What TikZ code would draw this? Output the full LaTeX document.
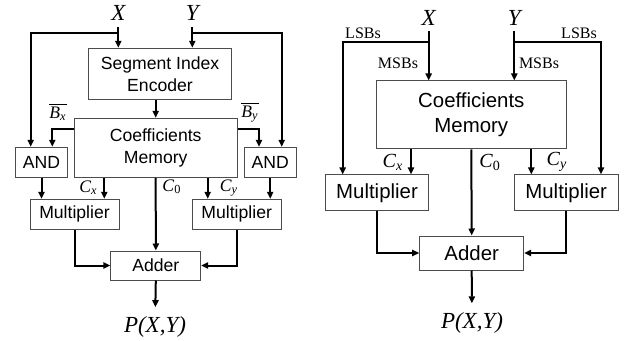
\documentclass[tikz,border=0pt]{standalone}
\usepackage{fontspec}
\setmainfont{Liberation Serif}
\setsansfont{Liberation Sans}
\usetikzlibrary{arrows.meta,positioning}
\newcommand{\subl}[2]{\textit{#1}\textsubscript{#2}}
\tikzset{
  blk/.style={draw=black!70,line width=.5pt,align=center,inner sep=0pt,font=\fontsize{8.8}{11}\selectfont\sffamily},
  blkbig/.style={blk,font=\fontsize{10.2}{12.5}\selectfont\sffamily},
  wire/.style={line width=1pt},
  arr/.style={wire,-{Triangle[length=3.5pt,width=3.1pt]}},
  var/.style={font=\fontsize{11.5}{12}\selectfont\itshape,inner sep=3pt},
  sig/.style={font=\fontsize{8.8}{10}\selectfont,inner sep=0pt},
  sigbig/.style={font=\fontsize{10}{11}\selectfont,inner sep=0pt},
  bits/.style={font=\fontsize{8}{9}\selectfont,inner sep=0pt},
}
\begin{document}
\begin{tikzpicture}[x=0.5pt,y=-0.5pt]
  \useasboundingbox (0,0) rectangle (624,341);
  % ---------------- left: with segment index encoder
  \node[var] (xA) at (118.3,13) {X};
  \node[var] (yA) at (192.3,13) {Y};
  \node[blk,minimum width=71.7pt,minimum height=25.5pt] (enc) at (160,73.8) {Segment Index\\Encoder};
  \node[blk,minimum width=81.7pt,minimum height=29.5pt] (memA) at (155.7,147.8) {Coefficients\\Memory};
  \node[blk,minimum width=25.8pt,minimum height=15pt] (andLA) at (41.5,162.3) {AND};
  \node[blk,minimum width=25.8pt,minimum height=15pt] (andRA) at (270.2,162.3) {AND};
  \node[blk,minimum width=44.5pt,minimum height=14.9pt] (mulLA) at (74.5,214.2) {Multiplier};
  \node[blk,minimum width=44.4pt,minimum height=14.9pt] (mulRA) at (236.7,214.2) {Multiplier};
  \node[blk,minimum width=44.9pt,minimum height=14.5pt] (addA) at (155.8,265.5) {Adder};
  \node[var,inner sep=4.5pt] (pA) at (155,327) {P(X,Y)};
  % input ports
  \coordinate (xsplitA) at (118.3,33.3);
  \coordinate (ysplitA) at (192.3,33.3);
  \coordinate (andLx) at ([xshift=-5.4pt]andLA.north);
  \coordinate (andLb) at ([xshift=5.4pt]andLA.north);
  \coordinate (andRb) at ([xshift=-5.6pt]andRA.north);
  \coordinate (andRy) at ([xshift=5.75pt]andRA.north);
  \coordinate (cxA) at ([xshift=14.9pt]mulLA.north);
  \coordinate (cyA) at ([xshift=-14.5pt]mulRA.north);
  \draw[arr] (xA) -- (xA |- enc.north);
  \draw[arr] (yA) -- (yA |- enc.north);
  \draw[arr] (xsplitA) -| (andLx);
  \draw[arr] (ysplitA) -| (andRy);
  \draw[arr] (enc.south -| memA.north) -- (memA.north);
  \draw[arr] ([yshift=-5.5pt]memA.north west) -| (andLb);
  \draw[arr] ([yshift=-5.5pt]memA.north east) -| (andRb);
  \draw[arr] (andLA.south) -- (andLA.south |- mulLA.north);
  \draw[arr] (andRA.south) -- (andRA.south |- mulRA.north);
  \draw[arr] (cxA |- memA.south) -- (cxA);
  \draw[arr] (cyA |- memA.south) -- (cyA);
  \draw[arr] (memA.south) -- (addA.north);
  \draw[arr] (mulLA.south) |- (addA.west);
  \draw[arr] (mulRA.south) |- (addA.east);
  \draw[arr] (addA.south) -- (pA);
  \node[sig] (bxA) at (58,112) {$\overline{\hbox{\subl{B}{\textit{x}}}}$};
  \node[sig] (byA) at (250,112) {$\overline{\hbox{\subl{B}{\textit{y}}}}$};
  \node[sig] (cxlblA) at (88.5,188) {\subl{C}{\textit{x}}};
  \node[sig] (c0lblA) at (172,187) {\subl{C}{0}};
  \node[sig] (cylblA) at (229,188) {\subl{C}{\textit{y}}};
  % ---------------- right: MSBs address the memory
  \node[var] (xB) at (428.7,17.5) {X};
  \node[var] (yB) at (514.3,17.5) {Y};
  \node[blkbig,minimum width=95pt,minimum height=34pt] (memB) at (471.3,115) {Coefficients\\Memory};
  \node[blkbig,minimum width=51.7pt,minimum height=17.9pt] (mulLB) at (377,192.8) {Multiplier};
  \node[blkbig,minimum width=51.9pt,minimum height=17.9pt] (mulRB) at (566.2,192.8) {Multiplier};
  \node[blkbig,minimum width=52pt,minimum height=17pt] (addB) at (471.7,253) {Adder};
  \node[var,inner sep=4.2pt] (pB) at (472,322.5) {P(X,Y)};
  \coordinate (xsplitB) at (428.7,42.3);
  \coordinate (ysplitB) at (514.3,42.3);
  \coordinate (lsbxB) at ([xshift=-17.15pt]mulLB.north);
  \coordinate (cxB) at ([xshift=17pt]mulLB.north);
  \coordinate (cyB) at ([xshift=-17.45pt]mulRB.north);
  \coordinate (lsbyB) at ([xshift=17.4pt]mulRB.north);
  \draw[arr] (xB) -- (xB |- memB.north);
  \draw[arr] (yB) -- (yB |- memB.north);
  \draw[arr] (xsplitB) -| (lsbxB);
  \draw[arr] (ysplitB) -| (lsbyB);
  \draw[arr] (cxB |- memB.south) -- (cxB);
  \draw[arr] (cyB |- memB.south) -- (cyB);
  \draw[arr] (memB.south) -- (addB.north);
  \draw[arr] (mulLB.south) |- (addB.west);
  \draw[arr] (mulRB.south) |- (addB.east);
  \draw[arr] (addB.south) -- (pB);
  \node[bits] (lsbxlbl) at (363,33) {LSBs};
  \node[bits] (lsbylbl) at (579,33) {LSBs};
  \node[bits] (msbxlbl) at (398,63) {MSBs};
  \node[bits] (msbylbl) at (539,63) {MSBs};
  \node[sigbig] (cxlblB) at (393,162) {\subl{C}{\textit{x}}};
  \node[sigbig] (c0lblB) at (490,162) {\subl{C}{0}};
  \node[sigbig] (cylblB) at (557,162) {\subl{C}{\textit{y}}};
\end{tikzpicture}
\end{document}
